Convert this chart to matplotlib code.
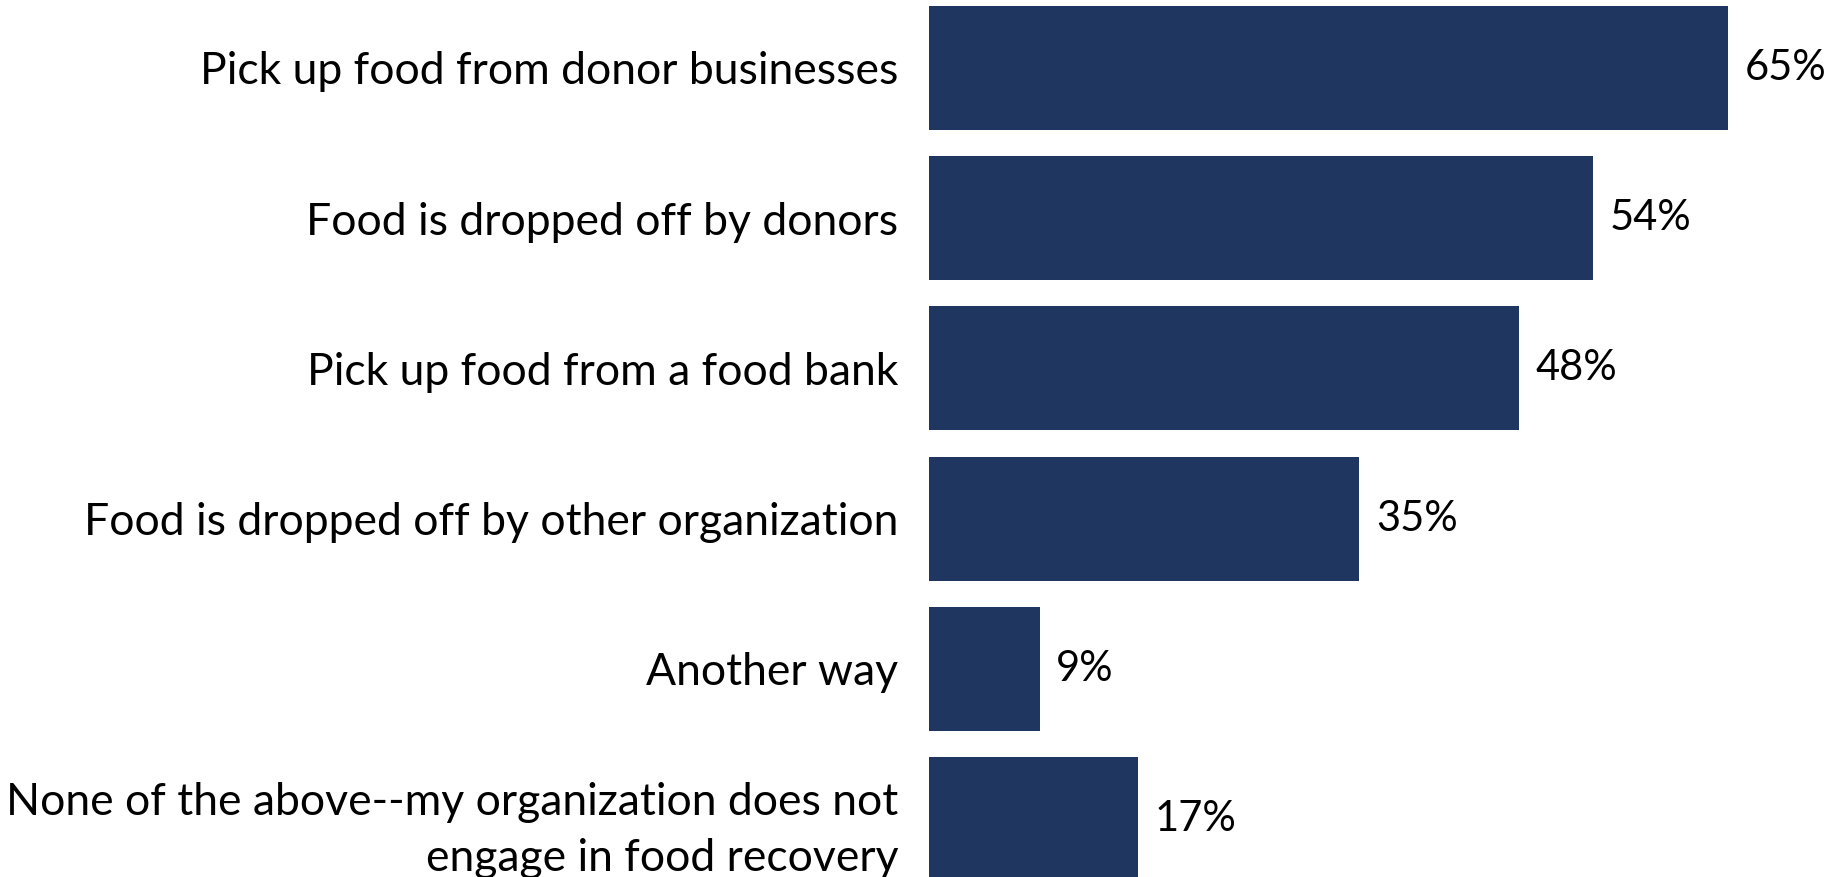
import matplotlib.pyplot as plt

categories = [
    "Pick up food from donor businesses",
    "Food is dropped off by donors",
    "Pick up food from a food bank",
    "Food is dropped off by other organization",
    "Another way",
    "None of the above--my organization does not\nengage in food recovery",
]
shares = [65, 54, 48, 35, 9, 17]

plt.rcParams['font.family'] = ['Lato', 'DejaVu Sans']

fig = plt.figure(figsize=(18.33, 8.77), dpi=100)
ax = fig.add_axes([929 / 1833, 0, 1 - 929 / 1833, 1])

pos = range(len(categories))
bars = ax.barh(pos, shares, height=0.825, color='#1E3660')
ax.bar_label(bars, labels=[f'{v}%' for v in shares], padding=12,
             fontsize=30, color='black')

ax.set_xlim(0, 904 / 12.29)
ax.set_ylim(5.384, -0.451)
ax.set_yticks(list(pos))
ax.set_yticklabels(categories, fontsize=32, linespacing=1.45)
ax.tick_params(axis='y', length=0, pad=22)
ax.set_xticks([])
for s in ax.spines.values():
    s.set_visible(False)

fig.savefig('out.png', dpi=100)
